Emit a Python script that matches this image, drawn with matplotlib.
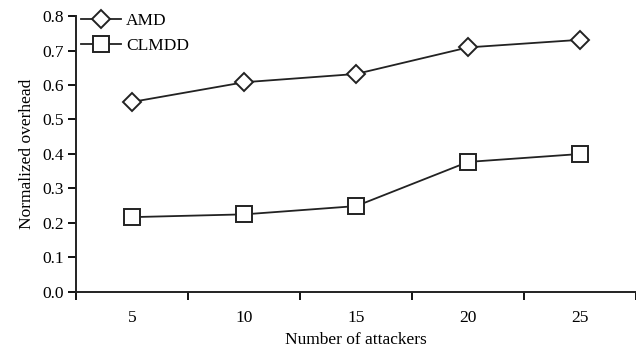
import numpy as np
import matplotlib
matplotlib.use('Agg')
import matplotlib.pyplot as plt

# Data
attackers = ['5', '10', '15', '20', '25']
amd = [0.551, 0.608, 0.632, 0.709, 0.731]
clmdd = [0.217, 0.225, 0.249, 0.377, 0.400]

plt.rcParams['font.family'] = ['Liberation Serif', 'DejaVu Serif']
plt.rcParams['font.size'] = 12.5

fig = plt.figure(figsize=(6.36, 3.48), dpi=100)
ax = fig.add_axes([0.12, 0.161, 0.88, 0.793])

x = np.arange(len(attackers))
ax.plot(x, amd, color='#222222', lw=1.3, marker='D', markersize=9,
        markerfacecolor='white', markeredgecolor='#222222', markeredgewidth=1.4, label='AMD')
ax.plot(x, clmdd, color='#222222', lw=1.3, marker='s', markersize=12,
        markerfacecolor='white', markeredgecolor='#222222', markeredgewidth=1.4, label='CLMDD')

ax.set_xlim(-0.5, len(attackers) - 0.5)
ax.set_ylim(0, 0.8)
ax.set_yticks(np.arange(0, 0.81, 0.1))
ax.set_yticklabels([f'{v:.1f}' for v in np.arange(0, 0.81, 0.1)])

# category boundaries get the tick marks, labels sit in the middle
ax.set_xticks(np.arange(-0.5, len(attackers), 1.0))
ax.set_xticklabels([])
ax.set_xticks(x, minor=True)
ax.set_xticklabels(attackers, minor=True)
ax.tick_params(axis='x', which='minor', length=0, pad=13)
ax.tick_params(axis='x', which='major', length=6, width=1.3, direction='out')
ax.tick_params(axis='y', length=6, width=1.3, direction='out', pad=3)

for side in ['top', 'right']:
    ax.spines[side].set_visible(False)
for side in ['left', 'bottom']:
    ax.spines[side].set_linewidth(1.4)
    ax.spines[side].set_color('#222222')

ax.set_xlabel('Number of attackers', labelpad=4)
ax.set_ylabel('Normalized overhead', labelpad=5)

ax.legend(loc='upper left', bbox_to_anchor=(-0.01, 1.05), frameon=False,
          handlelength=2.3, handletextpad=0.3, labelspacing=0.5, borderaxespad=0.2)

fig.savefig('out.png', dpi=100)
